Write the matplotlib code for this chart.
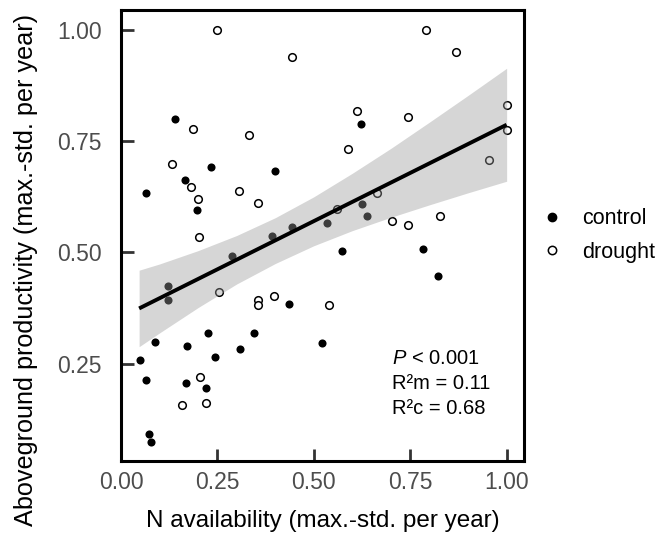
import matplotlib
matplotlib.use("Agg")
import matplotlib.pyplot as plt
from matplotlib.lines import Line2D

plt.rcParams['font.family'] = ['Liberation Sans', 'DejaVu Sans']
plt.rcParams['mathtext.fontset'] = 'custom'
plt.rcParams['mathtext.it'] = 'Liberation Sans:italic'
plt.rcParams['mathtext.rm'] = 'Liberation Sans'

# control plots (filled points)
control_x = [0.140, 0.065, 0.167, 0.233, 0.399, 0.197, 0.289, 0.391, 0.443, 0.535,
             0.623, 0.625, 0.637, 0.573, 0.783, 0.822, 0.123, 0.123, 0.435, 0.087,
             0.225, 0.346, 0.171, 0.308, 0.243, 0.521, 0.048, 0.064, 0.169, 0.220,
             0.072, 0.078]
control_y = [0.799, 0.634, 0.663, 0.691, 0.682, 0.595, 0.492, 0.537, 0.557, 0.567,
             0.788, 0.609, 0.582, 0.504, 0.507, 0.446, 0.424, 0.392, 0.384, 0.298,
             0.319, 0.319, 0.289, 0.283, 0.265, 0.297, 0.259, 0.212, 0.206, 0.195,
             0.092, 0.074]

# drought plots (open points)
drought_x = [0.250, 0.444, 0.186, 0.332, 0.132, 0.182, 0.307, 0.200, 0.356, 0.202,
             0.790, 0.869, 0.611, 0.745, 1.000, 1.000, 0.589, 0.953, 0.663, 0.561,
             0.703, 0.745, 0.827, 0.254, 0.355, 0.355, 0.398, 0.540, 0.205, 0.159,
             0.220]
drought_y = [1.000, 0.940, 0.777, 0.764, 0.698, 0.646, 0.639, 0.619, 0.610, 0.535,
             1.000, 0.950, 0.819, 0.804, 0.831, 0.776, 0.732, 0.707, 0.633, 0.597,
             0.570, 0.561, 0.582, 0.412, 0.394, 0.382, 0.403, 0.381, 0.219, 0.157,
             0.161]

# model fit and its confidence band
fit_x = [0.047, 1.0]
fit_y = [0.374, 0.787]
band_x = [0.047, 0.1, 0.2, 0.3, 0.4, 0.5, 0.6, 0.7, 0.8, 0.9, 1.0]
band_lo = [0.288, 0.319, 0.376, 0.429, 0.475, 0.515, 0.549, 0.579, 0.607, 0.634, 0.660]
band_hi = [0.460, 0.474, 0.504, 0.538, 0.578, 0.625, 0.678, 0.734, 0.793, 0.853, 0.914]

x_ticks = [0.0, 0.25, 0.5, 0.75, 1.0]
y_ticks = [0.25, 0.5, 0.75, 1.0]
stats_lines = [r"$\mathit{P}$ < 0.001", "R²m = 0.11", "R²c = 0.68"]
group_labels = ["control", "drought"]

fig = plt.figure(figsize=(6.62, 5.44), dpi=100)
ax = fig.add_axes([121 / 662, 83 / 544, 403 / 662, 451 / 544])

# points first, then the band on top (points under it look grey), then the line
ax.scatter(control_x, control_y, s=34, color="black", linewidths=0, zorder=1)
ax.scatter(drought_x, drought_y, s=30, facecolors="white", edgecolors="black",
           linewidths=1.1, zorder=1)
ax.fill_between(band_x, band_lo, band_hi, color="#999999", alpha=0.4,
                linewidth=0, zorder=2)
ax.plot(fit_x, fit_y, color="black", linewidth=2.8, solid_capstyle="butt", zorder=3)

ax.set_xlim(0.0, 1.045)
ax.set_ylim(0.031, 1.045)
ax.set_xticks(x_ticks)
ax.set_yticks(y_ticks)
ax.set_xticklabels([f"{v:.2f}" for v in x_ticks])
ax.set_yticklabels([f"{v:.2f}" for v in y_ticks])
ax.tick_params(direction="in", length=9, width=2, color="#333333",
               labelcolor="#4D4D4D", labelsize=16.5)
ax.tick_params(axis="y", pad=14)
ax.tick_params(axis="x", pad=7)
for sp in ax.spines.values():
    sp.set_linewidth(2.2)
    sp.set_color("black")

ax.set_xlabel("N availability (max.-std. per year)", fontsize=17.5, labelpad=12)
fig.text(26 / 662, 0.503, "Aboveground productivity (max.-std. per year)",
         fontsize=18.2, rotation=90, ha="center", va="center")

for i, line in enumerate(stats_lines):
    ax.text(0.703, 0.262 - i * 0.057, line, fontsize=14.5, va="center", ha="left")

handles = [
    Line2D([], [], marker="o", linestyle="none", markersize=6,
           markerfacecolor="black", markeredgecolor="black"),
    Line2D([], [], marker="o", linestyle="none", markersize=6,
           markerfacecolor="white", markeredgecolor="black", markeredgewidth=1.1),
]
fig.legend(handles, group_labels, loc="center left", bbox_to_anchor=(0.788, 0.567),
           frameon=False, fontsize=15.5, handletextpad=0.9, labelspacing=0.6,
           handlelength=1.0)

fig.savefig("out.png", dpi=100)
